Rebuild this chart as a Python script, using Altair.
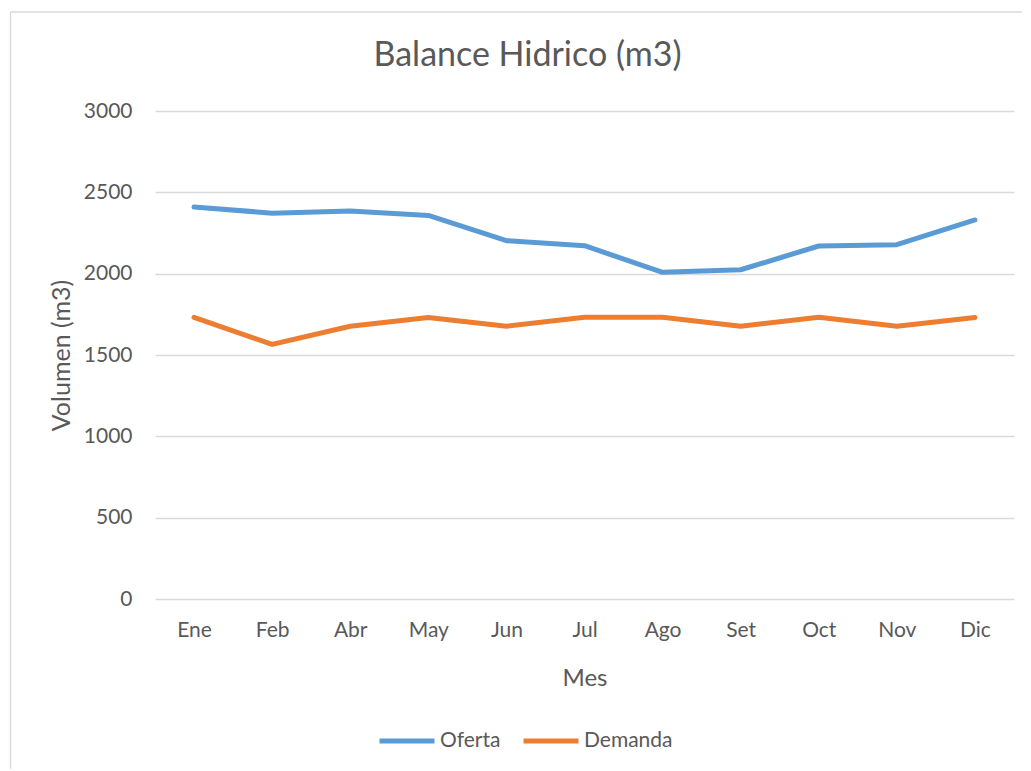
import altair as alt
import pandas as pd

meses = ["Ene", "Feb", "Abr", "May", "Jun", "Jul", "Ago", "Set", "Oct", "Nov", "Dic"]
oferta = [2410, 2372, 2385, 2358, 2203, 2172, 2008, 2024, 2170, 2178, 2330]
demanda = [1731, 1565, 1677, 1730, 1677, 1732, 1732, 1677, 1732, 1677, 1730]
series = ["Oferta", "Demanda"]
colores = ["#5B9BD5", "#ED7D31"]

rows = []
for m, o, d in zip(meses, oferta, demanda):
    rows.append({"Mes": m, "Serie": "Oferta", "Valor": o})
    rows.append({"Mes": m, "Serie": "Demanda", "Valor": d})
df = pd.DataFrame(rows)

FONT = "Lato"
GREY = "#595959"

lines = alt.Chart(df).mark_line(strokeWidth=5, strokeCap="round", strokeJoin="round").encode(
    x=alt.X("Mes:N", sort=meses, title="Mes",
            scale=alt.Scale(paddingInner=0, paddingOuter=0),
            axis=alt.Axis(labelAngle=0, domain=False, ticks=False, grid=False,
                          labelPadding=20, titlePadding=26)),
    y=alt.Y("Valor:Q", title="Volumen (m3)",
            scale=alt.Scale(domain=[0, 3000], nice=False),
            axis=alt.Axis(values=[0, 500, 1000, 1500, 2000, 2500, 3000], format="d",
                          domain=False, ticks=False, titleFontSize=25,
                          labelPadding=23, titlePadding=9, gridColor="#D9D9D9", gridWidth=1.3)),
    color=alt.Color("Serie:N", sort=series,
                    scale=alt.Scale(domain=series, range=colores),
                    legend=alt.Legend(title=None, orient="none", direction="horizontal",
                                      legendX=222, legendY=600, symbolType="stroke",
                                      symbolSize=3025, symbolStrokeWidth=5,
                                      labelOffset=3, columnPadding=12)),
)

edge = pd.DataFrame({"a": [0]})
border = alt.Chart(edge).mark_rule(color="#D9D9D9", strokeWidth=1.3).encode(
    x=alt.value(-144.5), x2=alt.value(-144.5), y=alt.value(-99), y2=alt.value(670)
) + alt.Chart(edge).mark_rule(color="#D9D9D9", strokeWidth=1.3).encode(
    x=alt.value(-144.5), x2=alt.value(870), y=alt.value(-99), y2=alt.value(-99)
)

chart = alt.layer(border, lines).properties(
    width=859, height=488,
    padding={"left": 147, "top": 103, "right": 8, "bottom": 170},
    autosize=alt.AutoSizeParams(type="none"),
    title=alt.Title("Balance Hidrico (m3)", fontSize=34, font=FONT, color=GREY,
                    fontWeight="normal", anchor="middle", frame="group", dx=-57,
                    baseline="alphabetic", offset=-89),
).configure_view(stroke=None).configure_axis(
    labelFont=FONT, labelFontSize=21, labelColor=GREY,
    titleFont=FONT, titleFontSize=24, titleColor=GREY, titleFontWeight="normal",
).configure_legend(labelFont=FONT, labelFontSize=21, labelColor=GREY)

chart.save("out.html", embed_options={"renderer": "svg", "actions": False})
